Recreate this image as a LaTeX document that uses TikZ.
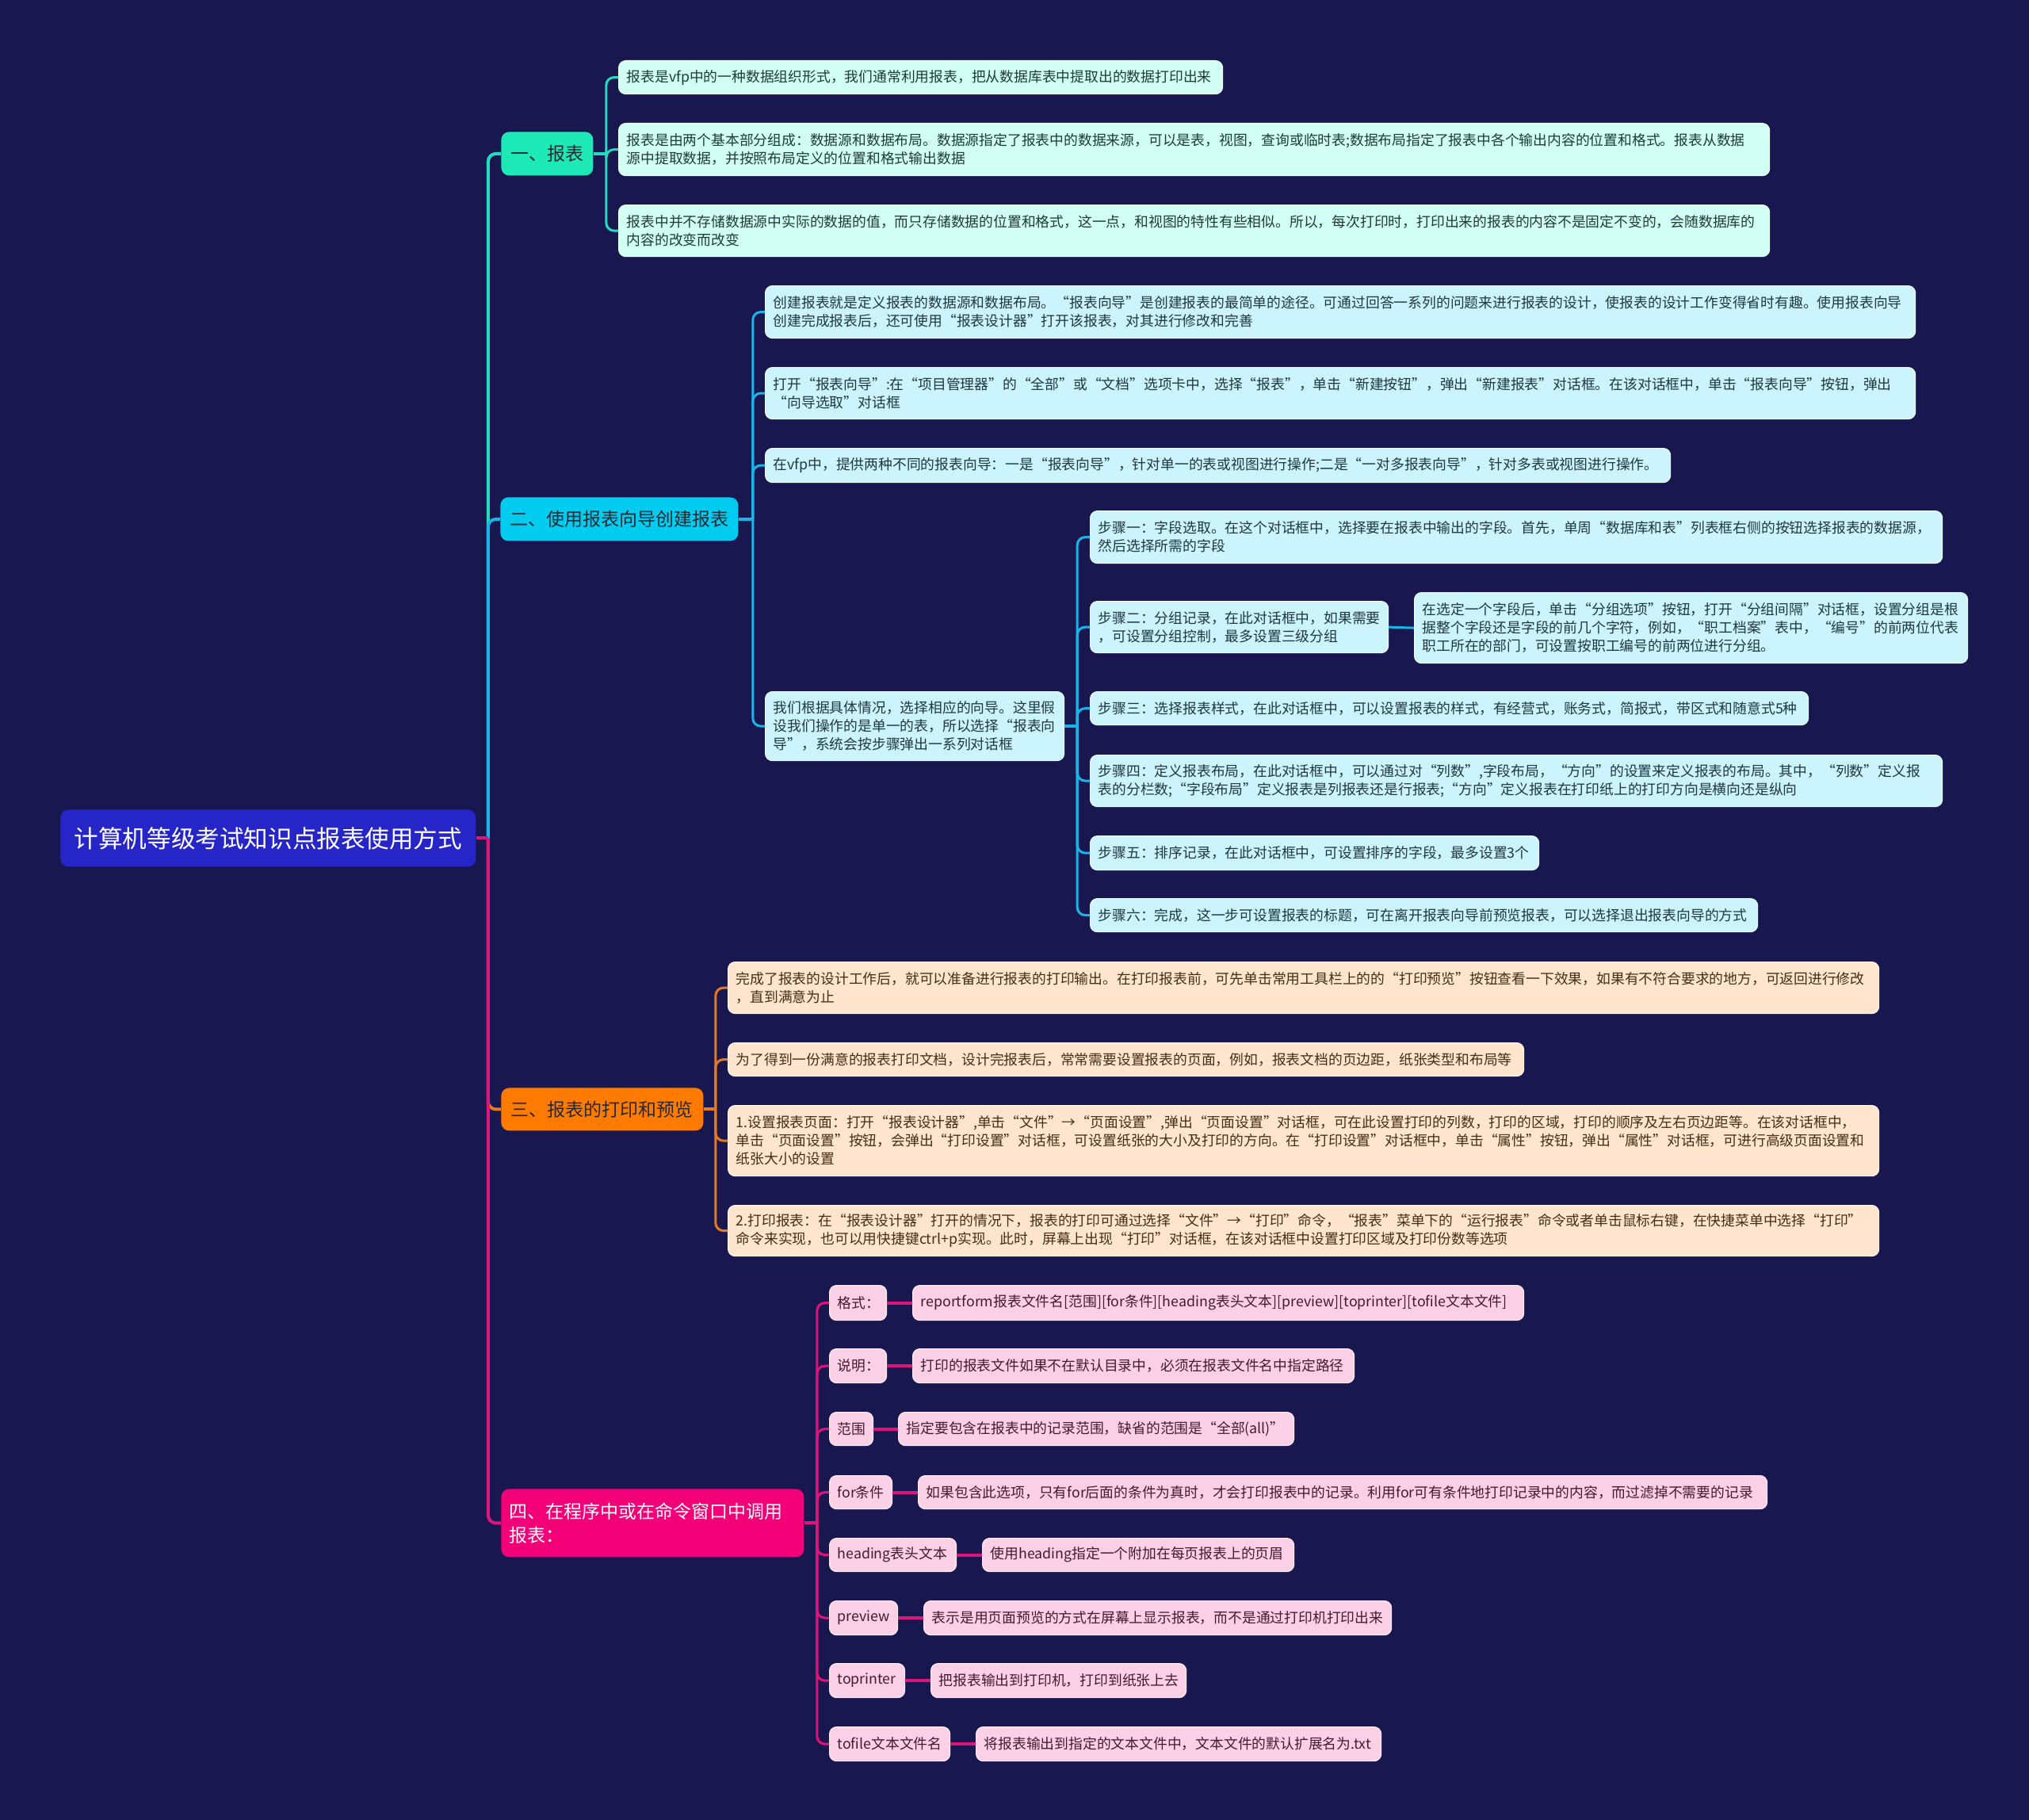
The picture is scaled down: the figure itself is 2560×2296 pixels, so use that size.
\documentclass[tikz,border=0pt]{standalone}
\usepackage{fontspec}
\setmainfont{Noto Sans CJK SC}
\usetikzlibrary{calc}
\definecolor{bg}{RGB}{25,23,80}
\definecolor{rootc}{RGB}{38,38,200}
\definecolor{b1c}{RGB}{29,233,182}
\definecolor{b2c}{RGB}{0,204,240}
\definecolor{b3c}{RGB}{255,123,0}
\definecolor{b4c}{RGB}{243,0,120}
\definecolor{f1}{RGB}{209,255,243}
\definecolor{f2}{RGB}{204,244,252}
\definecolor{f3}{RGB}{255,229,205}
\definecolor{f4}{RGB}{252,208,230}
\definecolor{l1}{RGB}{34,220,190}
\definecolor{l2}{RGB}{26,180,232}
\definecolor{l3}{RGB}{232,122,30}
\definecolor{l4}{RGB}{222,20,122}
\definecolor{t1}{RGB}{30,60,52}
\definecolor{t2}{RGB}{30,55,68}
\definecolor{t3}{RGB}{70,45,20}
\definecolor{t4}{RGB}{70,25,45}
\definecolor{txt}{RGB}{40,40,50}
\tikzset{
 boxbase/.style={rectangle, rounded corners=4.5pt, inner xsep=5pt, inner ysep=1pt, align=left,
   font=\fontsize{8.9pt}{11.5pt}\selectfont},
 ca/.style={boxbase, fill=f1, draw=white!60!f1, line width=0.6pt, text=t1},
 cb/.style={boxbase, fill=f2, draw=white!60!f2, line width=0.6pt, text=t2},
 cc/.style={boxbase, fill=f3, draw=white!60!f3, line width=0.6pt, text=t3},
 cd/.style={boxbase, fill=f4, draw=white!60!f4, line width=0.6pt, text=t4},
 brbase/.style={rectangle, rounded corners=5pt, inner xsep=5pt, inner ysep=1pt, align=center,
   font=\fontsize{11.5pt}{15pt}\selectfont, text=txt},
 rootbox/.style={rectangle, rounded corners=5pt, inner xsep=5pt, align=center, fill=rootc,
   font=\fontsize{15.3pt}{18pt}\selectfont, text=white},
 trunkA/.style={draw=l1, line width=2pt},
 trunkB/.style={draw=l2, line width=2pt},
 trunkC/.style={draw=l3, line width=2pt},
 trunkD/.style={draw=l4, line width=2pt},
 linkA/.style={draw=l1, line width=1.5pt, rounded corners=5pt},
 linkB/.style={draw=l2, line width=1.5pt, rounded corners=5pt},
 linkC/.style={draw=l3, line width=1.5pt, rounded corners=5pt},
 linkD/.style={draw=l4, line width=1.5pt, rounded corners=5pt},
 kvlink/.style={draw=l4, line width=2pt},
}
\newcommand{\bx}[7]{%
 \pgfmathsetlengthmacro\bxw{(#5-#3)*0.5pt}%
 \pgfmathsetlengthmacro\bxh{(#6-#4)*0.5pt}%
 \pgfmathsetlengthmacro\bxt{(#5-#3-20)*0.5pt}%
 \node[#2, anchor=north west, minimum width=\bxw, minimum height=\bxh, text width=\bxt] (#1) at (#3,#4) {#7};}
\begin{document}
\begin{tikzpicture}[x=0.5pt,y=-0.5pt]
\fill[bg] (0,0) rectangle (2560,2296);
\useasboundingbox (0,0) rectangle (2560,2296);

% root
\bx{root}{rootbox}{76}{1021}{600}{1093}{计算机等级考试知识点报表使用方式}

% branches
\bx{n1}{brbase, fill=b1c}{632}{166}{748}{221}{一、报表}
\bx{n2}{brbase, fill=b2c}{631}{627}{931}{682}{二、使用报表向导创建报表}
\bx{n3}{brbase, fill=b3c}{632}{1372}{887}{1426}{三、报表的打印和预览}
\bx{n4}{brbase, fill=b4c, align=left, text=white}{632}{1878}{1014}{1964}{四、在程序中或在命令窗口中调用\\报表：}

% branch 1 children
\bx{a1}{ca}{780}{76}{1542}{118}{报表是vfp中的一种数据组织形式，我们通常利用报表，把从数据库表中提取出的数据打印出来}
\bx{a2}{ca}{780}{155}{2232}{221}{报表是由两个基本部分组成：数据源和数据布局。数据源指定了报表中的数据来源，可以是表，视图，查询或临时表;数据布局指定了报表中各个输出内容的位置和格式。报表从数据\\源中提取数据，并按照布局定义的位置和格式输出数据}
\bx{a3}{ca}{780}{258}{2232}{323}{报表中并不存储数据源中实际的数据的值，而只存储数据的位置和格式，这一点，和视图的特性有些相似。所以，每次打印时，打印出来的报表的内容不是固定不变的，会随数据库的\\内容的改变而改变}

% branch 2 children
\bx{b1}{cb}{965}{360}{2416}{426}{创建报表就是定义报表的数据源和数据布局。“报表向导”是创建报表的最简单的途径。可通过回答一系列的问题来进行报表的设计，使报表的设计工作变得省时有趣。使用报表向导\\创建完成报表后，还可使用“报表设计器”打开该报表，对其进行修改和完善}
\bx{b2}{cb}{965}{463}{2416}{528}{打开“报表向导”:在“项目管理器”的“全部”或“文档”选项卡中，选择“报表”，单击“新建按钮”，弹出“新建报表”对话框。在该对话框中，单击“报表向导”按钮，弹出\\“向导选取”对话框}
\bx{b3}{cb}{965}{565}{2107}{608}{在vfp中，提供两种不同的报表向导：一是“报表向导”，针对单一的表或视图进行操作;二是“一对多报表向导”，针对多表或视图进行操作。}
\bx{b4}{cb}{965}{872}{1342}{959}{我们根据具体情况，选择相应的向导。这里假\\设我们操作的是单一的表，所以选择“报表向\\导”，系统会按步骤弹出一系列对话框}

% steps
\bx{s1}{cb}{1375}{644}{2450}{710}{步骤一：字段选取。在这个对话框中，选择要在报表中输出的字段。首先，单周“数据库和表”列表框右侧的按钮选择报表的数据源，\\然后选择所需的字段}
\bx{s2}{cb}{1375}{758}{1751}{823}{步骤二：分组记录，在此对话框中，如果需要\\，可设置分组控制，最多设置三级分组}
\bx{s2c}{cb}{1784}{747}{2482}{836}{在选定一个字段后，单击“分组选项”按钮，打开“分组间隔”对话框，设置分组是根\\据整个字段还是字段的前几个字符，例如，“职工档案”表中，“编号”的前两位代表\\职工所在的部门，可设置按职工编号的前两位进行分组。}
\bx{s3}{cb}{1375}{872}{2281}{914}{步骤三：选择报表样式，在此对话框中，可以设置报表的样式，有经营式，账务式，简报式，带区式和随意式5种}
\bx{s4}{cb}{1375}{952}{2450}{1017}{步骤四：定义报表布局，在此对话框中，可以通过对“列数”,字段布局，“方向”的设置来定义报表的布局。其中，“列数”定义报\\表的分栏数;“字段布局”定义报表是列报表还是行报表;“方向”定义报表在打印纸上的打印方向是横向还是纵向}
\bx{s5}{cb}{1375}{1054}{1941}{1097}{步骤五：排序记录，在此对话框中，可设置排序的字段，最多设置3个}
\bx{s6}{cb}{1375}{1133}{2217}{1175}{步骤六：完成，这一步可设置报表的标题，可在离开报表向导前预览报表，可以选择退出报表向导的方式}

% branch 3 children
\bx{p1}{cc}{918}{1213}{2370}{1278}{完成了报表的设计工作后，就可以准备进行报表的打印输出。在打印报表前，可先单击常用工具栏上的的“打印预览”按钮查看一下效果，如果有不符合要求的地方，可返回进行修改\\，直到满意为止}
\bx{p2}{cc}{918}{1315}{1922}{1357}{为了得到一份满意的报表打印文档，设计完报表后，常常需要设置报表的页面，例如，报表文档的页边距，纸张类型和布局等}
\bx{p3}{cc}{918}{1394}{2370}{1483}{1.设置报表页面：打开“报表设计器”,单击“文件”→“页面设置”,弹出“页面设置”对话框，可在此设置打印的列数，打印的区域，打印的顺序及左右页边距等。在该对话框中，\\单击“页面设置”按钮，会弹出“打印设置”对话框，可设置纸张的大小及打印的方向。在“打印设置”对话框中，单击“属性”按钮，弹出“属性”对话框，可进行高级页面设置和\\纸张大小的设置}
\bx{p4}{cc}{918}{1520}{2370}{1584}{2.打印报表：在“报表设计器”打开的情况下，报表的打印可通过选择“文件”→“打印”命令，“报表”菜单下的“运行报表”命令或者单击鼠标右键，在快捷菜单中选择“打印”\\命令来实现，也可以用快捷键ctrl+p实现。此时，屏幕上出现“打印”对话框，在该对话框中设置打印区域及打印份数等选项}

% branch 4 keys and values
\bx{k1}{cd}{1046}{1621}{1118}{1665}{格式：}
\bx{v1}{cd}{1151}{1621}{1922}{1665}{reportform报表文件名[范围][for条件][heading表头文本][preview][toprinter][tofile文本文件]}
\bx{k2}{cd}{1046}{1701}{1118}{1744}{说明：}
\bx{v2}{cd}{1151}{1701}{1708}{1744}{打印的报表文件如果不在默认目录中，必须在报表文件名中指定路径}
\bx{k3}{cd}{1046}{1781}{1101}{1823}{范围}
\bx{v3}{cd}{1133}{1781}{1632}{1823}{指定要包含在报表中的记录范围，缺省的范围是“全部(all)”}
\bx{k4}{cd}{1046}{1861}{1125}{1903}{for条件}
\bx{v4}{cd}{1158}{1861}{2229}{1903}{如果包含此选项，只有for后面的条件为真时，才会打印报表中的记录。利用for可有条件地打印记录中的内容，而过滤掉不需要的记录}
\bx{k5}{cd}{1046}{1940}{1206}{1982}{heading表头文本}
\bx{v5}{cd}{1239}{1940}{1632}{1982}{使用heading指定一个附加在每页报表上的页眉}
\bx{k6}{cd}{1046}{2019}{1132}{2062}{preview}
\bx{v6}{cd}{1165}{2019}{1755}{2062}{表示是用页面预览的方式在屏幕上显示报表，而不是通过打印机打印出来}
\bx{k7}{cd}{1046}{2098}{1141}{2141}{toprinter}
\bx{v7}{cd}{1174}{2098}{1496}{2141}{把报表输出到打印机，打印到纸张上去}
\bx{k8}{cd}{1046}{2178}{1198}{2221}{tofile文本文件名}
\bx{v8}{cd}{1231}{2178}{1742}{2221}{将报表输出到指定的文本文件中，文本文件的默认扩展名为.txt}

% trunk connectors
\coordinate (jr) at ($(root.east)+(15,0)$);
\draw[trunkA, rounded corners=5pt] (jr) |- (n1.west);
\draw[trunkB, rounded corners=5pt] (jr) |- (n2.west);
\draw[trunkC, rounded corners=5pt] (jr) |- (n3.west);
\draw[trunkD, rounded corners=5pt] (jr) |- (n4.west);
\draw[trunkD] (root.east) -- (jr);

% branch 1
\draw[trunkA] (n1.east) -- ++(16,0) coordinate (j1);
\foreach \c in {a1,a2,a3} \draw[linkA] (j1) |- (\c.west);
% branch 2
\draw[trunkB] (n2.east) -- ++(18,0) coordinate (j2);
\foreach \c in {b1,b2,b3,b4} \draw[linkB] (j2) |- (\c.west);
\draw[trunkB] (b4.east) -- ++(16,0) coordinate (j2b);
\foreach \c in {s1,s2,s3,s4,s5,s6} \draw[linkB] (j2b) |- (\c.west);
\draw[linkB] (s2.east) -- (s2c.west);
% branch 3
\draw[trunkC] (n3.east) -- ++(15,0) coordinate (j3);
\foreach \c in {p1,p2,p3,p4} \draw[linkC] (j3) |- (\c.west);
% branch 4
\draw[trunkD] (n4.east) -- ++(16,0) coordinate (j4);
\foreach \c in {k1,k2,k3,k4,k5,k6,k7,k8} \draw[linkD] (j4) |- (\c.west);
\draw[kvlink] (k1.east) -- (v1.west);
\draw[kvlink] (k2.east) -- (v2.west);
\draw[kvlink] (k3.east) -- (v3.west);
\draw[kvlink] (k4.east) -- (v4.west);
\draw[kvlink] (k5.east) -- (v5.west);
\draw[kvlink] (k6.east) -- (v6.west);
\draw[kvlink] (k7.east) -- (v7.west);
\draw[kvlink] (k8.east) -- (v8.west);
\end{tikzpicture}
\end{document}
